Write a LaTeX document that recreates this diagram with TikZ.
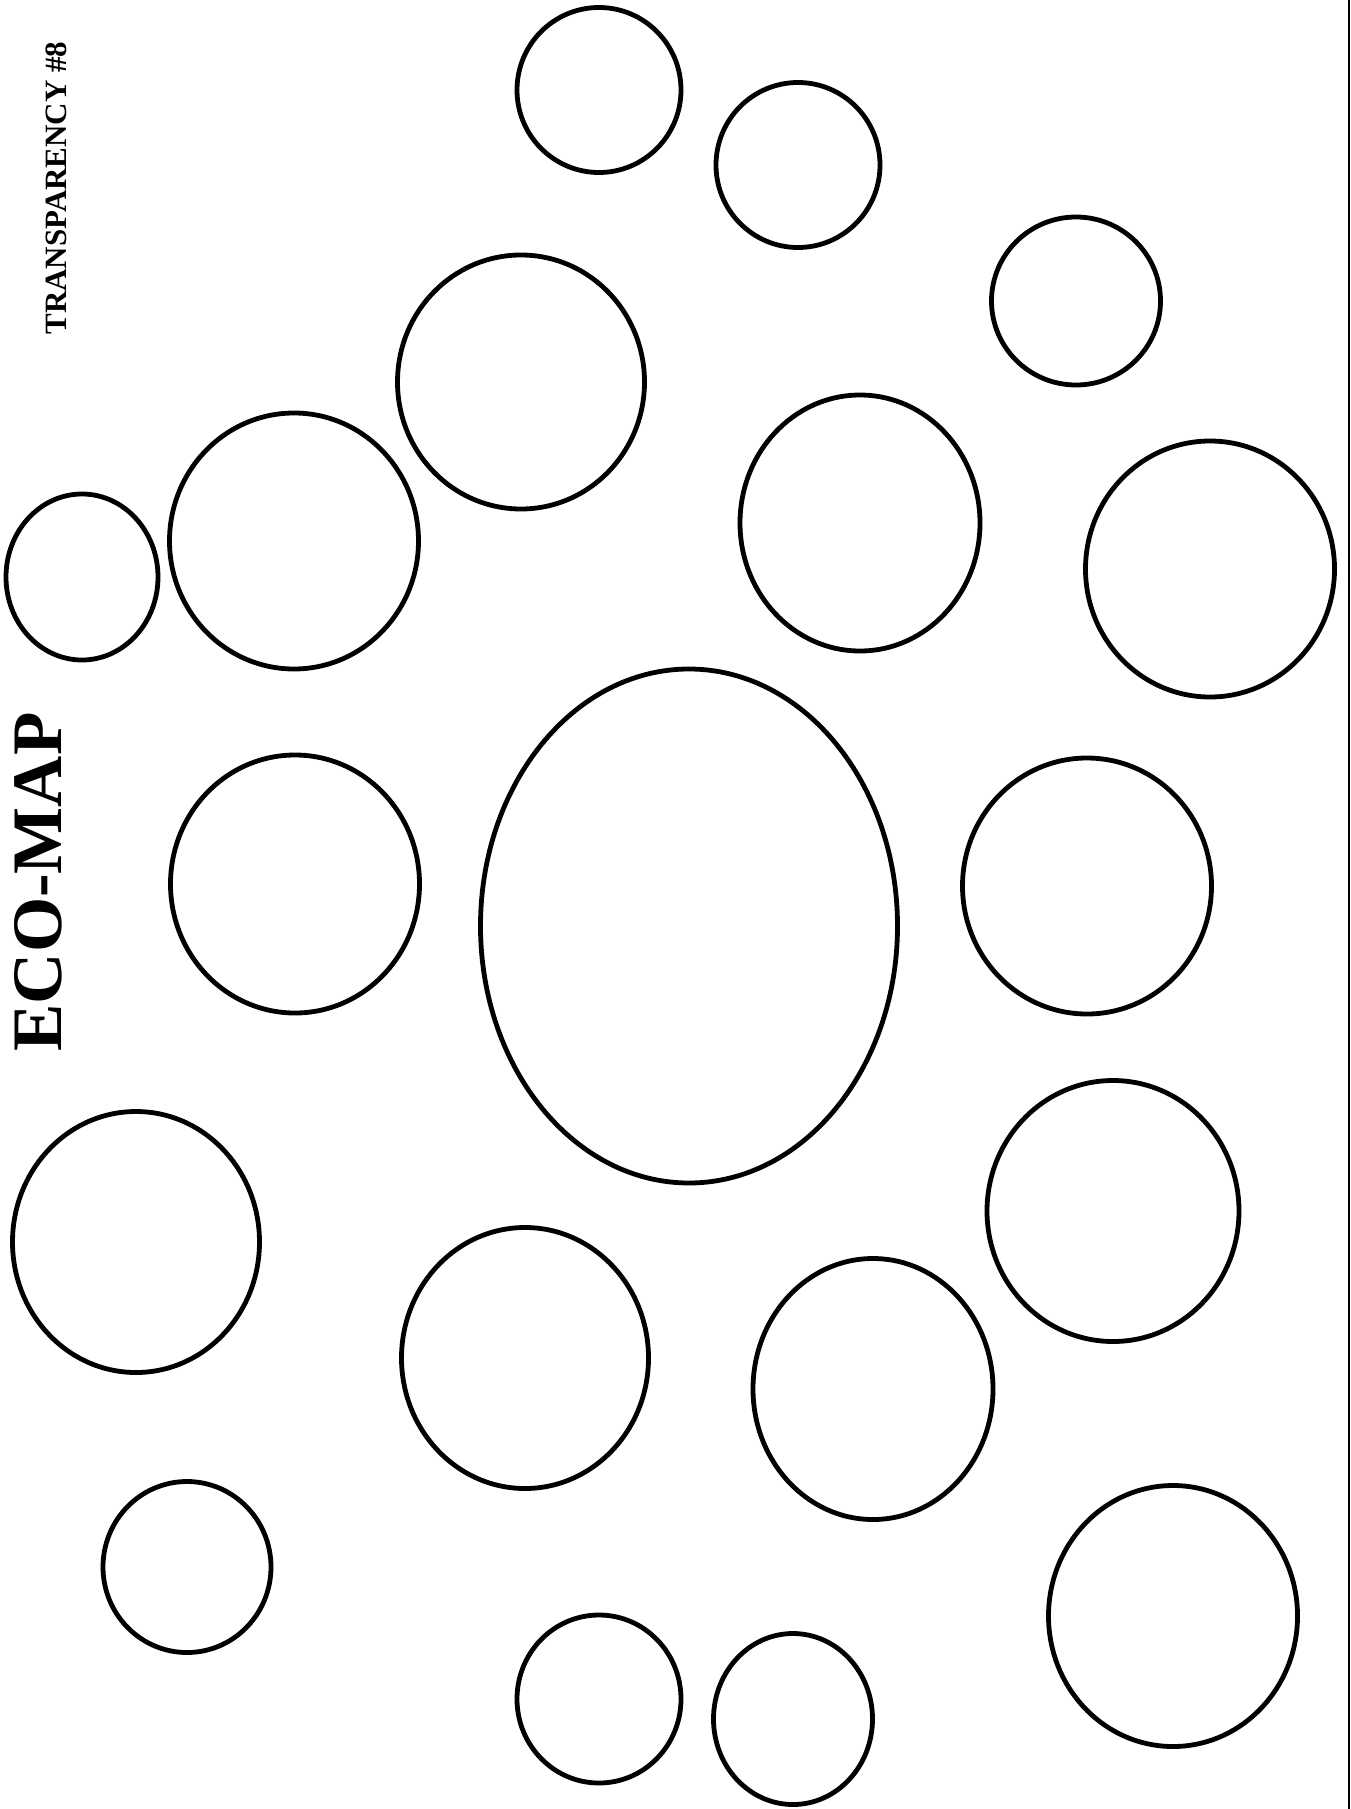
\documentclass[tikz,border=0pt]{standalone}
\usepackage{fontspec}
\setmainfont{Liberation Serif}
\usetikzlibrary{shapes.geometric}
\tikzset{
  ring/.style={draw=black, line width=4.8pt, ellipse, inner sep=0pt},
}
\begin{document}
\begin{tikzpicture}[x=1pt,y=-1pt]
\useasboundingbox[fill=white] (0,0) rectangle (1351,1809);
% title texts
\node[rotate=90, font=\bfseries\fontsize{71}{71}\selectfont, inner sep=0pt] (title) at (38,882) {ECO-MAP};
\node[rotate=90, font=\bfseries\fontsize{31}{31}\selectfont, inner sep=0pt] (tag) at (56,188) {TRANSPARENCY \#8};
% right edge line
\coordinate (edgetop) at (1349,0);
\coordinate (edgebot) at (1349,1809);
\draw[line width=2.5pt] (edgetop) -- (edgebot);
% centre ellipse
\node[ring, minimum width=417pt, minimum height=514pt] (centre) at (689,926) {};
% surrounding circles
\node[ring, minimum width=164pt, minimum height=165pt] (c1) at (599,90) {};
\node[ring, minimum width=164pt, minimum height=165pt] (c2) at (798,165) {};
\node[ring, minimum width=169pt, minimum height=168pt] (c3) at (1076,301) {};
\node[ring, minimum width=247pt, minimum height=254pt] (c4) at (521,382) {};
\node[ring, minimum width=249pt, minimum height=256pt] (c5) at (294,541) {};
\node[ring, minimum width=152pt, minimum height=166pt] (c6) at (82,577) {};
\node[ring, minimum width=240pt, minimum height=256pt] (c7) at (860,523) {};
\node[ring, minimum width=249pt, minimum height=256pt] (c8) at (1210,569) {};
\node[ring, minimum width=249pt, minimum height=258pt] (c9) at (295,884) {};
\node[ring, minimum width=249pt, minimum height=256pt] (c10) at (1087,886) {};
\node[ring, minimum width=247pt, minimum height=261pt] (c11) at (136,1242) {};
\node[ring, minimum width=252pt, minimum height=261pt] (c12) at (1113,1211) {};
\node[ring, minimum width=247pt, minimum height=261pt] (c13) at (525,1358) {};
\node[ring, minimum width=240pt, minimum height=261pt] (c14) at (873,1389) {};
\node[ring, minimum width=168pt, minimum height=171pt] (c15) at (187,1567) {};
\node[ring, minimum width=249pt, minimum height=261pt] (c16) at (1173,1616) {};
\node[ring, minimum width=164pt, minimum height=168pt] (c17) at (599,1699) {};
\node[ring, minimum width=159pt, minimum height=171pt] (c18) at (793,1719) {};
\end{tikzpicture}
\end{document}
